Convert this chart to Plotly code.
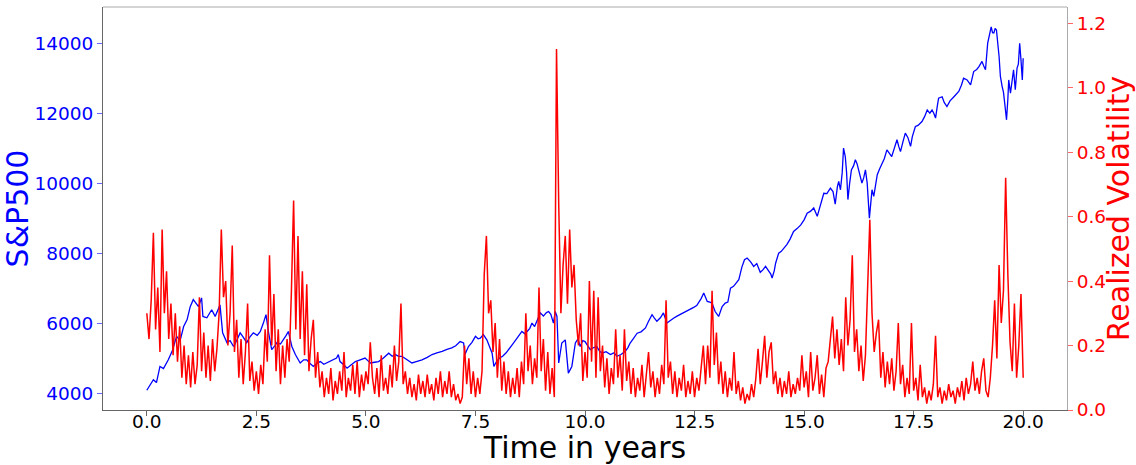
import plotly.graph_objects as go

# ---------------- data ----------------
# S&P500 level (left axis): time in years and value
sp_time = [
    0.00, 0.08, 0.15, 0.22, 0.30, 0.38, 0.49, 0.58, 0.68, 0.76, 0.84, 0.92, 0.99, 1.06, 1.12, 1.18, 1.25, 1.28,
    1.37, 1.43, 1.48, 1.56, 1.62, 1.67, 1.73, 1.78, 1.83, 1.90, 1.98, 2.05, 2.13, 2.20, 2.28, 2.35, 2.43, 2.52,
    2.59, 2.66, 2.72, 2.78, 2.85, 2.92, 2.97, 3.05, 3.12, 3.18, 3.23, 3.31, 3.39, 3.45, 3.50, 3.58, 3.65, 3.72,
    3.80, 3.88, 3.96, 4.04, 4.11, 4.18, 4.26, 4.33, 4.37, 4.41, 4.50, 4.57, 4.66, 4.76, 4.87, 4.98, 5.05, 5.10,
    5.20, 5.29, 5.40, 5.52, 5.60, 5.67, 5.75, 5.82, 5.88, 5.94, 6.05, 6.15, 6.28, 6.40, 6.51, 6.62, 6.74, 6.85,
    6.96, 7.05, 7.15, 7.23, 7.26, 7.34, 7.42, 7.50, 7.56, 7.61, 7.68, 7.76, 7.83, 7.88, 7.92, 7.98, 8.05, 8.12,
    8.20, 8.26, 8.35, 8.45, 8.50, 8.56, 8.62, 8.68, 8.74, 8.79, 8.85, 8.92, 8.98, 9.05, 9.12, 9.17, 9.22, 9.28,
    9.32, 9.36, 9.40, 9.47, 9.55, 9.62, 9.70, 9.78, 9.84, 9.89, 9.95, 10.00, 10.06, 10.12, 10.20, 10.27, 10.33,
    10.39, 10.48, 10.58, 10.66, 10.73, 10.82, 10.92, 10.98, 11.03, 11.10, 11.19, 11.28, 11.38, 11.45, 11.53,
    11.58, 11.64, 11.72, 11.79, 11.87, 11.95, 12.02, 12.10, 12.18, 12.25, 12.32, 12.40, 12.48, 12.55, 12.59,
    12.65, 12.71, 12.79, 12.85, 12.90, 12.97, 13.05, 13.13, 13.20, 13.26, 13.32, 13.39, 13.45, 13.51, 13.58,
    13.64, 13.70, 13.78, 13.85, 13.92, 14.00, 14.06, 14.12, 14.18, 14.24, 14.27, 14.32, 14.35, 14.42, 14.48,
    14.55, 14.61, 14.68, 14.76, 14.84, 14.92, 15.00, 15.07, 15.15, 15.22, 15.30, 15.37, 15.45, 15.52, 15.60,
    15.66, 15.71, 15.76, 15.79, 15.83, 15.87, 15.90, 15.94, 15.97, 16.00, 16.04, 16.08, 16.13, 16.17, 16.21,
    16.24, 16.28, 16.32, 16.36, 16.40, 16.44, 16.46, 16.49, 16.52, 16.55, 16.59, 16.63, 16.67, 16.72, 16.78,
    16.83, 16.89, 16.94, 17.00, 17.06, 17.12, 17.16, 17.20, 17.26, 17.31, 17.37, 17.43, 17.47, 17.54, 17.60,
    17.66, 17.69, 17.75, 17.81, 17.87, 17.92, 17.96, 18.00, 18.04, 18.07, 18.15, 18.20, 18.26, 18.33, 18.42,
    18.48, 18.53, 18.59, 18.64, 18.72, 18.80, 18.87, 18.94, 18.99, 19.06, 19.10, 19.14, 19.19, 19.23, 19.27,
    19.30, 19.33, 19.36, 19.39, 19.45, 19.48, 19.52, 19.55, 19.57, 19.60, 19.62, 19.65, 19.67, 19.71, 19.74,
    19.78, 19.82, 19.86, 19.89, 19.92, 19.95, 19.98, 20.00,
]
sp_value = [
    4080, 4250, 4380, 4300, 4760, 4700, 4950, 5200, 5620, 5500, 5900, 6100, 6470, 6670, 6550, 6470, 6720, 6190,
    6150, 6300, 6380, 6190, 6400, 6520, 5720, 5600, 5440, 5500, 5330, 5500, 5720, 5600, 5440, 5600, 5720, 5650,
    5760, 6000, 6240, 5720, 5240, 5350, 5440, 5400, 5520, 5650, 5760, 5330, 5100, 4950, 4860, 4950, 4950, 4850,
    4760, 4850, 4900, 4820, 4860, 4900, 4950, 5000, 5100, 4900, 4800, 4710, 4800, 4900, 4950, 5000, 4920, 4860,
    4880, 4900, 5000, 5140, 5050, 5100, 5050, 5050, 5000, 4950, 4860, 4900, 4950, 5020, 5100, 5150, 5190, 5250,
    5290, 5350, 5470, 5430, 5100, 5330, 5450, 5620, 5550, 5570, 5670, 5520, 5300, 5140, 4760, 4900, 5000, 5050,
    5150, 5240, 5400, 5570, 5650, 5760, 5700, 5760, 5850, 6000, 5900, 6100, 6290, 6200, 6300, 6330, 6250, 6000,
    6330, 6190, 4860, 5430, 5520, 4570, 4760, 5430, 5550, 5330, 5500, 5470, 5350, 5240, 5300, 5330, 5200,
    5140, 5180, 5100, 5150, 5050, 5100, 5190, 5300, 5430, 5550, 5710, 5750, 5860, 6050, 6240,
    6150, 6050, 6150, 6290, 6000, 6080, 6140, 6200, 6250, 6290, 6330, 6380, 6450, 6500, 6570,
    6700, 6860, 6620, 6600, 6570, 6330, 6190, 6470, 6570, 6600, 7000, 7050, 7150, 7240, 7600,
    7810, 7860, 7750, 7620, 7700, 7450, 7520, 7620, 7500, 7400, 7290, 7500, 7710, 8000, 8050,
    8150, 8250, 8400, 8620, 8700, 8800, 8950, 9140, 9200, 9290, 9050, 9350, 9710, 9700, 9860,
    9760, 9400, 9900, 10050, 9810, 10300, 11000, 10760, 10300, 9530, 10000, 10380, 10500, 10670, 10550,
    10380, 10200, 10000, 10150, 10380, 10000, 9430, 9000, 9400, 9810, 9620, 9950, 10240, 10400, 10570,
    10700, 10950, 10850, 10760, 11000, 11240, 11050, 10900, 11200, 11430, 11300, 11050, 11330, 11620, 11650,
    11710, 11760, 11900, 12090, 12000, 12090, 12000, 11860, 12200, 12430, 12470, 12300, 12190, 12350, 12470,
    12550, 12620, 12800, 13000, 12950, 12810, 13190, 13250, 13330, 13480, 13350, 13240, 14000, 14300, 14470,
    14300, 14290, 14420, 14380, 13620, 13050, 12760, 12600, 12380, 12000, 11810, 12400, 12950, 12570, 12900,
    13240, 12670, 13290, 13400, 14000, 13520, 12950, 13570,
]

# Realized volatility (right axis): one value every 0.05 years, one row per year
vol_step = 0.05
vol_value = [
    # 0
    0.30, 0.22, 0.34, 0.55, 0.25, 0.38, 0.18, 0.56, 0.30, 0.43, 0.22, 0.33, 0.17, 0.30, 0.15, 0.26, 0.10, 0.20, 0.08, 0.17,
    # 1
    0.07, 0.18, 0.08, 0.14, 0.35, 0.12, 0.24, 0.10, 0.20, 0.09, 0.22, 0.12, 0.19, 0.30, 0.56, 0.35, 0.40, 0.20, 0.30, 0.51,
    # 2
    0.18, 0.28, 0.10, 0.22, 0.08, 0.18, 0.33, 0.09, 0.15, 0.06, 0.12, 0.05, 0.14, 0.08, 0.25, 0.15, 0.48, 0.20, 0.36, 0.12,
    # 3
    0.25, 0.08, 0.20, 0.10, 0.22, 0.15, 0.37, 0.65, 0.25, 0.54, 0.22, 0.43, 0.17, 0.39, 0.12, 0.22, 0.28, 0.10, 0.18, 0.07,
    # 4
    0.12, 0.04, 0.10, 0.05, 0.13, 0.03, 0.09, 0.05, 0.12, 0.06, 0.18, 0.04, 0.10, 0.06, 0.14, 0.05, 0.15, 0.04, 0.11, 0.06,
    # 5
    0.12, 0.08, 0.21, 0.10, 0.05, 0.13, 0.04, 0.17, 0.06, 0.10, 0.05, 0.14, 0.07, 0.20, 0.09, 0.15, 0.33, 0.08, 0.12, 0.05,
    # 6
    0.10, 0.04, 0.08, 0.03, 0.11, 0.05, 0.09, 0.04, 0.11, 0.05, 0.08, 0.03, 0.10, 0.05, 0.12, 0.04, 0.09, 0.05, 0.12, 0.04,
    # 7
    0.08, 0.03, 0.05, 0.02, 0.04, 0.20, 0.08, 0.16, 0.05, 0.12, 0.04, 0.10, 0.05, 0.12, 0.42, 0.54, 0.30, 0.34, 0.18, 0.27,
    # 8
    0.10, 0.22, 0.06, 0.15, 0.05, 0.12, 0.04, 0.10, 0.05, 0.13, 0.04, 0.15, 0.08, 0.30, 0.12, 0.20, 0.08, 0.16, 0.10, 0.38,
    # 9
    0.12, 0.22, 0.06, 0.18, 0.05, 0.13, 0.04, 1.12, 0.64, 0.30, 0.45, 0.54, 0.33, 0.56, 0.38, 0.45, 0.28, 0.20, 0.30, 0.09,
    # 10
    0.18, 0.10, 0.40, 0.15, 0.37, 0.10, 0.35, 0.12, 0.20, 0.07, 0.16, 0.05, 0.13, 0.08, 0.25, 0.10, 0.17, 0.06, 0.25, 0.09,
    # 11
    0.15, 0.05, 0.13, 0.04, 0.10, 0.06, 0.14, 0.04, 0.11, 0.18, 0.07, 0.12, 0.04, 0.10, 0.05, 0.14, 0.08, 0.34, 0.10, 0.15,
    # 12
    0.05, 0.12, 0.04, 0.10, 0.06, 0.14, 0.04, 0.09, 0.05, 0.12, 0.04, 0.10, 0.06, 0.13, 0.20, 0.08, 0.20, 0.10, 0.37, 0.14,
    # 13
    0.24, 0.08, 0.15, 0.05, 0.12, 0.04, 0.10, 0.06, 0.18, 0.05, 0.09, 0.03, 0.07, 0.02, 0.05, 0.03, 0.08, 0.04, 0.10, 0.19,
    # 14
    0.08, 0.15, 0.23, 0.10, 0.18, 0.21, 0.08, 0.12, 0.05, 0.10, 0.04, 0.09, 0.05, 0.12, 0.04, 0.08, 0.05, 0.10, 0.06, 0.17,
    # 15
    0.07, 0.12, 0.04, 0.18, 0.06, 0.10, 0.17, 0.05, 0.11, 0.04, 0.13, 0.15, 0.22, 0.29, 0.16, 0.25, 0.14, 0.22, 0.12, 0.35,
    # 16
    0.20, 0.28, 0.48, 0.18, 0.25, 0.12, 0.20, 0.09, 0.17, 0.38, 0.59, 0.30, 0.18, 0.24, 0.28, 0.10, 0.18, 0.07, 0.15, 0.08,
    # 17
    0.16, 0.06, 0.12, 0.27, 0.08, 0.14, 0.04, 0.10, 0.05, 0.27, 0.06, 0.10, 0.03, 0.14, 0.04, 0.07, 0.02, 0.06, 0.03, 0.08,
    # 18
    0.23, 0.04, 0.07, 0.02, 0.06, 0.03, 0.08, 0.04, 0.06, 0.02, 0.07, 0.04, 0.09, 0.03, 0.10, 0.05, 0.08, 0.15, 0.06, 0.10,
    # 19 (+ final point at 20.0)
    0.05, 0.12, 0.16, 0.06, 0.04, 0.10, 0.20, 0.34, 0.16, 0.45, 0.27, 0.37, 0.72, 0.42, 0.21, 0.12, 0.33, 0.10, 0.20, 0.36,
    0.10,
]
vol_time = [round(i * vol_step, 2) for i in range(len(vol_value))]

x_ticks = [0, 2.5, 5, 7.5, 10, 12.5, 15, 17.5, 20]
left_ticks = [4000, 6000, 8000, 10000, 12000, 14000]
right_ticks = [0.0, 0.2, 0.4, 0.6, 0.8, 1.0, 1.2]

# ---------------- figure ----------------
FONT = "DejaVu Sans"
fig = go.Figure()
fig.add_trace(go.Scatter(x=sp_time, y=sp_value, mode="lines",
                         line=dict(color="#0000ff", width=1.3), yaxis="y", showlegend=False))
fig.add_trace(go.Scatter(x=vol_time, y=vol_value, mode="lines",
                         line=dict(color="#ff0000", width=1.5), yaxis="y2", showlegend=False))

fig.update_layout(
    width=1136, height=465,
    margin=dict(l=103, r=69, t=7, b=55),
    paper_bgcolor="white", plot_bgcolor="white",
    font=dict(family=FONT),
    xaxis=dict(
        range=[-1.0, 21.0], tickvals=x_ticks, tickformat=".1f",
        showgrid=False, zeroline=False,
        showline=True, linecolor="#666666", linewidth=1,
        ticks="outside", ticklen=5, tickcolor="#666666",
        tickfont=dict(size=18.5, color="black", family=FONT),
        ticklabelstandoff=-10,
        title=dict(text="Time in years", font=dict(size=30, color="black", family=FONT), standoff=2),
        automargin=False,
    ),
    yaxis=dict(
        range=[3515, 15035], tickvals=left_ticks, tickformat="d",
        showgrid=False, zeroline=False,
        showline=True, linecolor="#666666", linewidth=1,
        ticks="outside", ticklen=5, tickcolor="#6666ff",
        tickfont=dict(size=18.5, color="#0000ff", family=FONT),
        title=dict(text="S&P500", font=dict(size=30, color="#0000ff", family=FONT), standoff=4),
        automargin=False,
    ),
    yaxis2=dict(
        range=[0, 1.25], tickvals=right_ticks, tickformat=".1f",
        overlaying="y", side="right",
        showgrid=False, zeroline=False,
        showline=True, linecolor="#aaaaaa", linewidth=1,
        ticks="outside", ticklen=5, tickcolor="#ff6666",
        tickfont=dict(size=18.5, color="#ff0000", family=FONT),
        title=dict(text="Realized Volatility", font=dict(size=30, color="#ff0000", family=FONT), standoff=4),
        automargin=False,
    ),
    shapes=[dict(type="line", xref="paper", yref="paper", x0=0, x1=1, y0=1, y1=1,
                 line=dict(color="#aaaaaa", width=1))],
)

fig.write_html("out.html", config={"displayModeBar": False},
               post_script="document.body.style.margin='0px';")
